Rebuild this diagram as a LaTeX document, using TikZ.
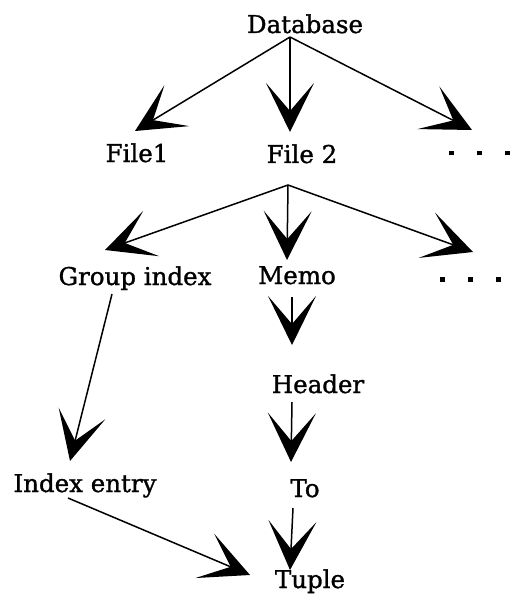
\documentclass[tikz,border=0pt]{standalone}
\usepackage{fontspec}
\setmainfont[FakeBold=1.2]{DejaVu Serif}
\usetikzlibrary{arrows.meta,calc}
\begin{document}
\begin{tikzpicture}[x=1pt,y=-1pt,
  lbl/.style={anchor=base,inner sep=0pt,font=\fontsize{24.5}{27}\selectfont},
  dotsnode/.style={anchor=center,inner sep=0pt},
  conn/.style={line width=1.5pt,-{Stealth[length=49pt,width=48pt,inset=28pt]}}]
\useasboundingbox (0,0) rectangle (509,596);
\node[lbl] (db) at (305,33) {Database};
\node[lbl] (f1) at (137,162) {File1};
\node[lbl] (f2) at (302,163) {File 2};
\node[dotsnode] (d1) at (479,153) {\rule{5pt}{5pt}\hspace{23pt}\rule{5pt}{5pt}\hspace{23pt}\rule{5pt}{5pt}};
\node[lbl] (gi) at (135,285) {Group index};
\node[lbl] (memo) at (297,284) {Memo};
\node[dotsnode] (d2) at (470,279) {\rule{5pt}{5pt}\hspace{23pt}\rule{5pt}{5pt}\hspace{23pt}\rule{5pt}{5pt}};
\node[lbl] (hdr) at (318,393) {Header};
\node[lbl] (ie) at (85,492) {Index entry};
\node[lbl] (to) at (305,497) {To};
\node[lbl] (tuple) at (310,588) {Tuple};
\draw[conn] ($(db.base)+(-15,4)$) -- ($(f1.base)+(-2,-31)$);
\draw[conn] ($(db.base)+(-15,4)$) -- ($(f2.base)+(-12,-31)$);
\draw[conn] ($(db.base)+(-15,4)$) -- ($(d1.center)+(-7,-23)$);
\draw[conn] ($(f2.base)+(-14,22)$) -- ($(gi.base)+(-30,-35)$);
\draw[conn] ($(f2.base)+(-14,22)$) -- ($(memo.base)+(-10,-24)$);
\draw[conn] ($(f2.base)+(-14,22)$) -- ($(d2.center)+(3,-27)$);
\draw[conn] ($(memo.base)+(-5,13)$) -- ($(hdr.base)+(-26,-48)$);
\draw[conn] ($(gi.base)+(-23,9)$) -- ($(ie.base)+(-15,-31)$);
\draw[conn] ($(hdr.base)+(-26,9)$) -- ($(to.base)+(-14,-35)$);
\draw[conn] ($(ie.base)+(-17,6)$) -- ($(tuple.base)+(-60,-13)$);
\draw[conn] ($(to.base)+(-12,11)$) -- ($(tuple.base)+(-20,-18)$);
\end{tikzpicture}
\end{document}
